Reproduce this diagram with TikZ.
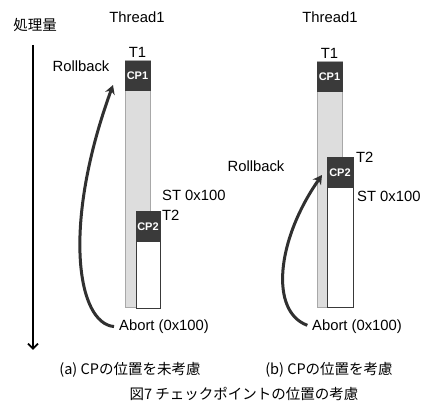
\documentclass[tikz,border=0pt]{standalone}
\usepackage{fontspec}
\setmainfont{Liberation Sans}
\newfontfamily\jpfont{Noto Sans CJK JP}
\usepackage{tikz}
\usetikzlibrary{arrows.meta,positioning}
\definecolor{cpdark}{RGB}{58,58,58}
\definecolor{thrgray}{RGB}{221,221,221}
\definecolor{thredge}{RGB}{168,168,168}
\definecolor{rbgray}{RGB}{48,48,48}

\begin{document}
\begin{tikzpicture}[x=1pt, y=1pt,
    lbl/.style={inner sep=0pt, font=\fontsize{14.8}{17}\selectfont},
    jlbl/.style={inner sep=0pt, font=\fontsize{14.5}{17}\selectfont\jpfont},
    thr/.style={rectangle, inner sep=0pt, minimum width=25pt,
      fill=thrgray, draw=thredge, line width=1pt},
    blk/.style={rectangle, inner sep=0pt, fill=cpdark, draw=cpdark,
      text=white, font=\fontsize{11}{13}\selectfont\bfseries},
    wbox/.style={rectangle, inner sep=0pt, fill=white,
      draw=gray!45!black, line width=1pt},
    rb/.style={line width=3pt, rbgray, shorten <=5pt,
      -{Stealth[length=9pt,width=10pt]}}
  ]
    \fill[white] (0,0) rectangle (425,401);
    \useasboundingbox (0,0) rectangle (425,401);

    % Axis
    \node[jlbl] (axlbl) at (35,376) {処理量};
    \coordinate (axtop) at (33,356);
    \coordinate (axbot) at (33,51);
    \draw[line width=1.8pt, -{Straight Barb[length=5pt,width=10pt]}] (axtop) -- (axbot);

    % (a) -- CP not considered
    \node[lbl] (thA) at (137,384) {Thread1};
    \node[thr, minimum height=247pt] (barA) at (137.5,216.5) {};
    \node[blk, minimum width=25pt, minimum height=29pt] (cp1A) at (137.5,325.5) {CP1};
    \node[lbl, above=3pt of cp1A] (t1A) {T1};
    \node[wbox, minimum width=24pt, minimum height=67pt] (wA) at (148,125.5) {};
    \node[blk, minimum width=24pt, minimum height=30pt, above=0pt of wA] (cp2A) {CP2};
    \node[lbl, anchor=west] (t2A) at (162,186) {T2};
    \node[lbl, anchor=west] (stA) at (162,206) {ST 0x100};
    \node[lbl] (rbA) at (81,335) {Rollback};
    \node[lbl, anchor=west] (abA) at (119,74) {Abort (0x100)};
    \coordinate (tipA) at (113,316);
    \draw[rb] (abA.west) to[out=175, in=-110, out distance=42pt, in distance=150pt] (tipA);

    % (b) -- CP considered
    \node[lbl] (thB) at (330,384) {Thread1};
    \node[thr, minimum height=246pt] (barB) at (329.5,216) {};
    \node[blk, minimum width=25pt, minimum height=29pt] (cp1B) at (329.5,324.5) {CP1};
    \node[lbl, above=3pt of cp1B] (t1B) {T1};
    \node[wbox, minimum width=26pt, minimum height=120pt] (wB) at (340,153) {};
    \node[blk, minimum width=26pt, minimum height=30pt, above=0pt of wB] (cp2B) {CP2};
    \node[lbl, anchor=west] (t2B) at (356,244) {T2};
    \node[lbl, anchor=west] (stB) at (357,205) {ST 0x100};
    \node[lbl] (rbB) at (256,235) {Rollback};
    \node[lbl, anchor=west] (abB) at (312,74) {Abort (0x100)};
    \coordinate (tipB) at (322,226);
    \draw[rb] (abB.west) to[out=160, in=-125, out distance=45pt, in distance=80pt] (tipB);

    % Captions
    \node[jlbl] (capA) at (130,31) {(a) CPの位置を未考慮};
    \node[jlbl] (capB) at (329,31) {(b) CPの位置を考慮};
    \node[jlbl] (fig) at (244,7.5) {図7 チェックポイントの位置の考慮};
  \end{tikzpicture}
\end{document}
